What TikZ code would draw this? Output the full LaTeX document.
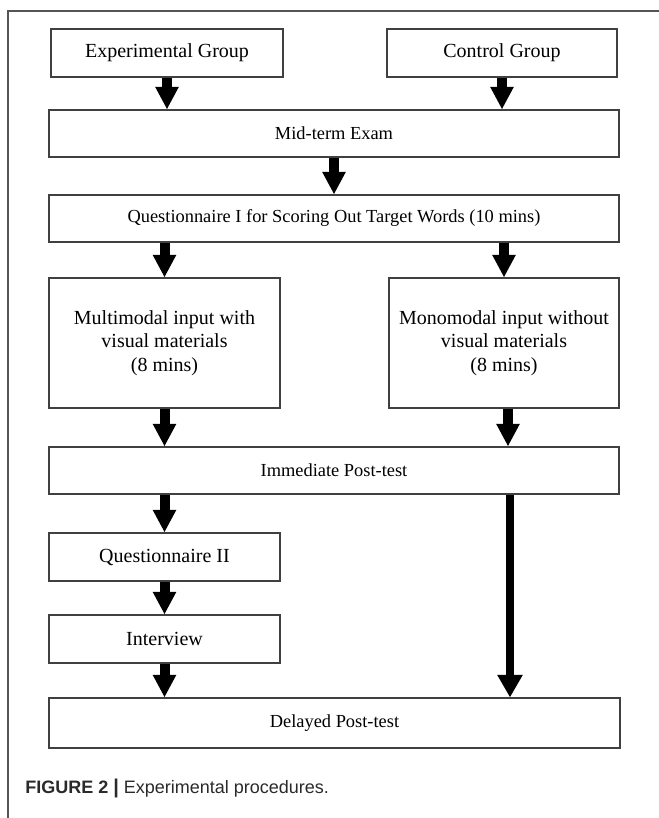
\documentclass[tikz,border=0pt]{standalone}
\usepackage{fontspec}
\setmainfont{Liberation Serif}
\newfontfamily\capfont{Liberation Sans}
\usetikzlibrary{arrows.meta}
\definecolor{boxline}{HTML}{404040}
\definecolor{frameline}{HTML}{555555}
\definecolor{captext}{HTML}{2A2A2A}
\begin{document}
\begin{tikzpicture}[x=0.75pt,y=-0.75pt,
  box/.style={draw=boxline,line width=0.8pt,fill=white,inner sep=0pt,
    font=\fontsize{15}{17.5}\selectfont,align=center},
  wbox/.style={box,minimum width=427.5pt,minimum height=35.25pt,
    font=\fontsize{13.8}{16}\selectfont},
  sbox/.style={box,minimum width=173.25pt,minimum height=36pt},
  tbox/.style={box,minimum width=173.25pt,minimum height=97.5pt},
  arr/.style={line width=7.5pt,-{Triangle[width=16.5pt,length=17pt]}},
  larr/.style={line width=6pt,-{Triangle[width=18pt,length=17pt]}}]
\useasboundingbox (0,0) rectangle (659,818);
% frame
\draw[frameline,line width=0.8pt] (8,818) -- (8,11) -- (659,11);
% boxes
\node[sbox,minimum width=174pt] (exp) at (167,53) {Experimental Group};
\node[sbox,minimum width=172.5pt] (ctl) at (502,53) {Control Group};
\node[wbox] (mid) at (334,133.5) {Mid-term Exam};
\node[wbox] (q1) at (334,218.5) {Questionnaire I for Scoring Out Target Words (10 mins)};
\node[tbox] (multi) at (164.5,343) {Multimodal input with\\visual materials\\(8 mins)};
\node[tbox,minimum width=172.5pt] (mono) at (504,343) {Monomodal input without\\visual materials\\(8 mins)};
\node[wbox] (imm) at (334,470.5) {Immediate Post-test};
\node[sbox] (q2) at (164.5,557) {Questionnaire II};
\node[sbox] (intv) at (164.5,639) {Interview};
\node[wbox,minimum width=428.25pt,minimum height=37.5pt] (del) at (334.5,723) {Delayed Post-test};
% arrows
\draw[arr] (exp.south) -- (exp.south |- mid.north);
\draw[arr] (ctl.south) -- (ctl.south |- mid.north);
\draw[arr] (mid.south) -- (q1.north);
\draw[arr] (multi.north |- q1.south) -- (multi.north);
\draw[arr] (mono.north |- q1.south) -- (mono.north);
\draw[arr] (multi.south) -- (multi.south |- imm.north);
\draw[arr] ([xshift=3pt]mono.south) -- ([xshift=3pt]mono.south |- imm.north);
\draw[arr] (q2.north |- imm.south) -- (q2.north);
\draw[arr] (q2.south) -- (intv.north);
\draw[arr] (intv.south) -- (intv.south |- del.north);
\draw[larr] ([xshift=4.5pt]mono.south |- imm.south) -- ([xshift=4.5pt]mono.south |- del.north);
% caption
\node[anchor=base west,inner sep=0pt,text=captext,font=\capfont\fontsize{13.5}{16}\selectfont] (cap) at (25,793) {\textbf{FIGURE 2 {\fontsize{15}{16}\selectfont|}} Experimental procedures.};
\end{tikzpicture}
\end{document}
